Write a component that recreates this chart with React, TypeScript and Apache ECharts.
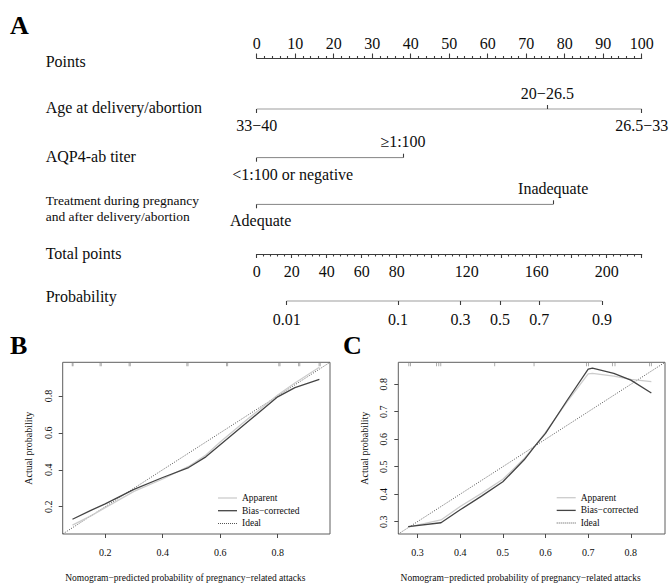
import React, { useEffect, useRef } from "react";
import * as echarts from "echarts";

const SERIF = "'Liberation Serif', 'Times New Roman', 'DejaVu Serif', serif";
const INK = "#0d0d0d";
const AXIS_GRAY = "#3c3c3c";

// ---------- Panel A: nomogram ----------
const pointsMax = 100;
const pointsMajor = 10;

const ageLabels = ["33−40", "20−26.5", "26.5−33"];
const agePoints = [0, 75.5, 100];
const ageAbove = [false, true, false];

const aqpLabels = ["<1:100 or negative", "≥1:100"];
const aqpPoints = [0, 38];
const aqpAbove = [false, true];

const treatLabels = ["Adequate", "Inadequate"];
const treatPoints = [0, 77];
const treatAbove = [false, true];

const totalMax = 220;
const totalMajor = 20;
const totalLabelled = [0, 20, 40, 60, 80, 120, 160, 200];

const probLabels = [0.01, 0.1, 0.3, 0.5, 0.7, 0.9];
const lpIntercept = -5.24;
const lpPerPoint = 0.0377;

const rowNames = [
  "Points",
  "Age at delivery/abortion",
  "AQP4-ab titer",
  "Treatment during pregnancy\nand after delivery/abortion",
  "Total points",
  "Probability",
];

// ---------- Panel B: calibration (training) ----------
const bRange = [0.052, 0.982];
const bTicks = [0.2, 0.4, 0.6, 0.8];
const bPredicted = [0.086, 0.15, 0.2, 0.3, 0.4, 0.49, 0.55, 0.6, 0.7, 0.8, 0.86, 0.945];
const bApparent = [0.1, 0.15, 0.195, 0.283, 0.35, 0.418, 0.48, 0.55, 0.68, 0.805, 0.87, 0.955];
const bBiasCorrected = [0.132, 0.18, 0.215, 0.294, 0.358, 0.412, 0.47, 0.536, 0.665, 0.795, 0.845, 0.89];
const bRug = [0.085, 0.088, 0.182, 0.186, 0.283, 0.287, 0.484, 0.488, 0.622, 0.626, 0.804, 0.808, 0.873, 0.877, 0.944, 0.948];

// ---------- Panel C: calibration (validation) ----------
const cRange = [0.255, 0.88];
const cTicks = [0.3, 0.4, 0.5, 0.6, 0.7, 0.8];
const cPredicted = [0.278, 0.355, 0.4, 0.45, 0.5, 0.55, 0.575, 0.6, 0.65, 0.7, 0.71, 0.76, 0.8, 0.848];
const cApparent = [0.28, 0.306, 0.355, 0.403, 0.454, 0.53, 0.575, 0.625, 0.735, 0.838, 0.84, 0.83, 0.818, 0.81];
const cBiasCorrected = [0.282, 0.296, 0.343, 0.393, 0.445, 0.525, 0.575, 0.621, 0.74, 0.855, 0.859, 0.84, 0.815, 0.768];
const cRug = [0.2797, 0.2836, 0.3445, 0.3499, 0.3546, 0.481, 0.5731, 0.6958, 0.7005, 0.7567, 0.7628, 0.844, 0.848];

const legendNames = ["Apparent", "Bias−corrected", "Ideal"];
const xTitle = "Nomogram−predicted probability of pregnancy−related attacks";
const yTitle = "Actual probability";

const APPARENT_COLOR = "#cccccc";
const BIAS_COLOR = "#444444";
const IDEAL_COLOR = "#555555";
const DOTTED_ICON =
  "path://M0 0h2v2h-2z M4 0h2v2h-2z M8 0h2v2h-2z M12 0h2v2h-2z M16 0h2v2h-2z M20 0h2v2h-2z M24 0h2v2h-2z M28 0h2v2h-2z M32 0h2v2h-2z M36 0h2v2h-2z";

function buildOption() {
  const grid: any[] = [];
  const xAxis: any[] = [];
  const yAxis: any[] = [];
  const series: any[] = [];
  const graphic: any[] = [];
  const legend: any[] = [];

  const NOM_LEFT = 256.7;
  const NOM_WIDTH = 385;
  const rowY = [58.5, 109, 157.7, 204.3, 254, 301];
  const line = { color: AXIS_GRAY, width: 1.1 };
  const txt = (size: number) => ({ fontFamily: SERIF, fontSize: size, color: INK });

  const addGrid = (g: any) => {
    const gi = grid.length;
    grid.push(g);
    return gi;
  };
  const addRow = (y: number) => {
    const gi = addGrid({ left: NOM_LEFT, top: y, width: NOM_WIDTH, height: 0 });
    const yi = yAxis.length;
    yAxis.push({ gridIndex: gi, type: "value", min: -1, max: 1, show: false });
    return { gi, yi };
  };
  const baseX = (gi: number, pos: string, max: number) => ({
    gridIndex: gi,
    type: "value",
    position: pos,
    min: 0,
    max,
    splitLine: { show: false },
    minorSplitLine: { show: false },
    axisLine: { show: false, onZero: false, lineStyle: line },
    axisTick: { show: false, lineStyle: line },
    axisLabel: { show: false, ...txt(16) },
  });

  // Points
  {
    const { gi } = addRow(rowY[0]);
    xAxis.push({
      ...baseX(gi, "top", pointsMax),
      interval: pointsMajor,
      axisLine: { show: true, onZero: false, lineStyle: line },
      axisTick: { show: true, length: 5, lineStyle: line },
      minorTick: { show: true, splitNumber: 5, length: 2.5, lineStyle: line },
      axisLabel: { show: true, ...txt(16), margin: 7.5 },
    });
  }

  const addVariable = (y: number, labels: string[], pts: number[], above: boolean[], belowPad?: number[]) => {
    const { gi, yi } = addRow(y);
    const fmt = (v: number) => {
      const i = pts.findIndex((p) => Math.abs(p - v) < 1e-6);
      return i >= 0 ? labels[i] : "";
    };
    const up = pts.filter((_, i) => above[i]);
    const down = pts.filter((_, i) => !above[i]);
    xAxis.push({
      ...baseX(gi, "top", pointsMax),
      axisTick: { show: true, customValues: up, length: 4, lineStyle: line },
      axisLabel: { show: true, ...txt(16), customValues: up, formatter: fmt, margin: 8 },
    });
    const bi = xAxis.length;
    const lab: any = { show: true, ...txt(16), customValues: down, formatter: fmt, margin: 8.5 };
    if (belowPad) lab.padding = belowPad;
    xAxis.push({
      ...baseX(gi, "bottom", pointsMax),
      axisTick: { show: true, customValues: down, length: 4, lineStyle: line },
      axisLabel: lab,
    });
    series.push({
      type: "line",
      xAxisIndex: bi,
      yAxisIndex: yi,
      data: [
        [Math.min(...pts), 0],
        [Math.max(...pts), 0],
      ],
      symbol: "none",
      lineStyle: line,
      silent: true,
    });
  };
  addVariable(rowY[1], ageLabels, agePoints, ageAbove);
  addVariable(rowY[2], aqpLabels, aqpPoints, aqpAbove, [0, 0, 0, 72]);
  addVariable(rowY[3], treatLabels, treatPoints, treatAbove, [0, 0, 0, 8]);

  // Total points
  {
    const { gi } = addRow(rowY[4]);
    xAxis.push({
      ...baseX(gi, "bottom", totalMax),
      interval: totalMajor,
      axisLine: { show: true, onZero: false, lineStyle: line },
      axisTick: { show: true, length: 4, lineStyle: line },
      minorTick: { show: true, splitNumber: 5, length: 2.5, lineStyle: line },
      axisLabel: {
        show: true,
        ...txt(16),
        margin: 9.5,
        formatter: (v: number) => (totalLabelled.includes(v) ? String(v) : ""),
      },
    });
  }

  // Probability
  {
    const probT = probLabels.map((p) => (Math.log(p / (1 - p)) - lpIntercept) / lpPerPoint);
    const { gi, yi } = addRow(rowY[5]);
    const xi = xAxis.length;
    xAxis.push({
      ...baseX(gi, "bottom", totalMax),
      axisTick: { show: true, customValues: probT, length: 4, lineStyle: line },
      axisLabel: {
        show: true,
        ...txt(16),
        customValues: probT,
        margin: 10,
        formatter: (v: number) => {
          const i = probT.findIndex((t) => Math.abs(t - v) < 1e-6);
          return i >= 0 ? String(probLabels[i]) : "";
        },
      },
    });
    series.push({
      type: "line",
      xAxisIndex: xi,
      yAxisIndex: yi,
      data: [
        [probT[0], 0],
        [probT[probT.length - 1], 0],
      ],
      symbol: "none",
      lineStyle: line,
      silent: true,
    });
  }

  // Row names
  const nameY = [61, 107.7, 156.7, 208.8, 253, 296];
  rowNames.forEach((name, i) => {
    const small = name.includes("\n");
    graphic.push({
      type: "text",
      x: 45.7,
      y: nameY[i],
      style: {
        text: name,
        fill: INK,
        font: `${small ? 13.5 : 16}px ${SERIF}`,
        lineHeight: small ? 15.7 : 16,
        textAlign: "left",
        textVerticalAlign: "middle",
      },
    });
  });

  // Panel letters
  [
    ["A", 10, 25],
    ["B", 10, 345],
    ["C", 343, 345],
  ].forEach(([t, x, y]) => {
    graphic.push({
      type: "text",
      x,
      y,
      style: {
        text: t,
        fill: "#000",
        font: `bold 26px ${SERIF}`,
        textAlign: "left",
        textVerticalAlign: "middle",
      },
    });
  });

  // Calibration panels
  const addCalibration = (
    box: { left: number; top: number; width: number; height: number },
    range: number[],
    ticks: number[],
    pred: number[],
    apparent: number[],
    bias: number[],
    rug: number[],
    legendPos: { left: number; top: number }
  ) => {
    const gi = addGrid({
      ...box,
      show: true,
      borderColor: "#5e5e5e",
      borderWidth: 1,
      backgroundColor: "transparent",
    });
    const xi = xAxis.length;
    const yi = yAxis.length;
    const tickLine = { color: "#4a4a4a", width: 1 };
    xAxis.push({
      gridIndex: gi,
      type: "value",
      position: "bottom",
      min: range[0],
      max: range[1],
      splitLine: { show: false },
      axisLine: { show: false, onZero: false },
      axisTick: { show: true, customValues: ticks, length: 4, lineStyle: tickLine },
      axisLabel: {
        show: true,
        customValues: ticks,
        formatter: (v: number) => v.toFixed(1),
        ...txt(10),
        margin: 13,
      },
      name: xTitle,
      nameLocation: "middle",
      nameGap: 39,
      nameTextStyle: { ...txt(9.5), padding: [0, 22, 0, 0] },
    });
    yAxis.push({
      gridIndex: gi,
      type: "value",
      position: "left",
      min: range[0],
      max: range[1],
      splitLine: { show: false },
      axisLine: { show: false, onZero: false },
      axisTick: { show: true, customValues: ticks, length: 4, lineStyle: tickLine },
      axisLabel: {
        show: true,
        customValues: ticks,
        formatter: (v: number) => v.toFixed(1),
        ...txt(10),
        rotate: 90,
        margin: 9.5,
      },
      name: yTitle,
      nameLocation: "middle",
      nameGap: 29,
      nameRotate: 90,
      nameTextStyle: txt(10),
    });
    series.push({
      type: "line",
      name: legendNames[2],
      xAxisIndex: xi,
      yAxisIndex: yi,
      data: [
        [range[0], range[0]],
        [range[1], range[1]],
      ],
      symbol: "none",
      color: IDEAL_COLOR,
      lineStyle: { color: IDEAL_COLOR, width: 1, type: [1, 1.5] },
      silent: true,
      z: 2,
    });
    series.push({
      type: "line",
      name: legendNames[0],
      xAxisIndex: xi,
      yAxisIndex: yi,
      data: pred.map((p, i) => [p, apparent[i]]),
      symbol: "none",
      color: APPARENT_COLOR,
      lineStyle: { color: APPARENT_COLOR, width: 1.3 },
      silent: true,
      z: 3,
    });
    series.push({
      type: "line",
      name: legendNames[1],
      xAxisIndex: xi,
      yAxisIndex: yi,
      data: pred.map((p, i) => [p, bias[i]]),
      symbol: "none",
      color: BIAS_COLOR,
      lineStyle: { color: BIAS_COLOR, width: 1.3 },
      silent: true,
      z: 4,
    });
    series.push({
      type: "scatter",
      xAxisIndex: xi,
      yAxisIndex: yi,
      data: rug.map((r) => [r, range[1]]),
      symbol: "rect",
      symbolSize: [0.8, 4],
      symbolOffset: [0, 2],
      itemStyle: { color: "#808080" },
      silent: true,
      z: 5,
    });
    legend.push({
      orient: "vertical",
      left: legendPos.left,
      top: legendPos.top,
      itemWidth: 19,
      itemHeight: 1.3,
      itemGap: 2.7,
      selectedMode: false,
      textStyle: { ...txt(9.5), lineHeight: 10 },
      itemStyle: { borderWidth: 0 },
      data: [
        { name: legendNames[0], icon: "rect", itemStyle: { color: APPARENT_COLOR, borderWidth: 0 } },
        { name: legendNames[1], icon: "rect", itemStyle: { color: BIAS_COLOR, borderWidth: 0 } },
        { name: legendNames[2], icon: DOTTED_ICON, itemStyle: { color: IDEAL_COLOR, borderWidth: 0 } },
      ],
    });
  };

  addCalibration(
    { left: 62.7, top: 362.3, width: 267.3, height: 171.7 },
    bRange,
    bTicks,
    bPredicted,
    bApparent,
    bBiasCorrected,
    bRug,
    { left: 213, top: 488 }
  );
  addCalibration(
    { left: 398.3, top: 362.3, width: 266.7, height: 171.7 },
    cRange,
    cTicks,
    cPredicted,
    cApparent,
    cBiasCorrected,
    cRug,
    { left: 551.7, top: 487.7 }
  );

  return {
    animation: false,
    backgroundColor: "#ffffff",
    textStyle: { fontFamily: SERIF },
    grid,
    xAxis,
    yAxis,
    series,
    legend,
    graphic,
  };
}

export default function App() {
  const ref = useRef<HTMLDivElement>(null);
  useEffect(() => {
    if (!ref.current) return;
    const chart = echarts.init(ref.current, undefined, { renderer: "svg" });
    chart.setOption(buildOption() as any);
    return () => chart.dispose();
  }, []);
  return (
    <div
      ref={ref}
      style={{ position: "absolute", left: 0, top: 0, width: 672, height: 587, background: "#fff" }}
    />
  );
}
